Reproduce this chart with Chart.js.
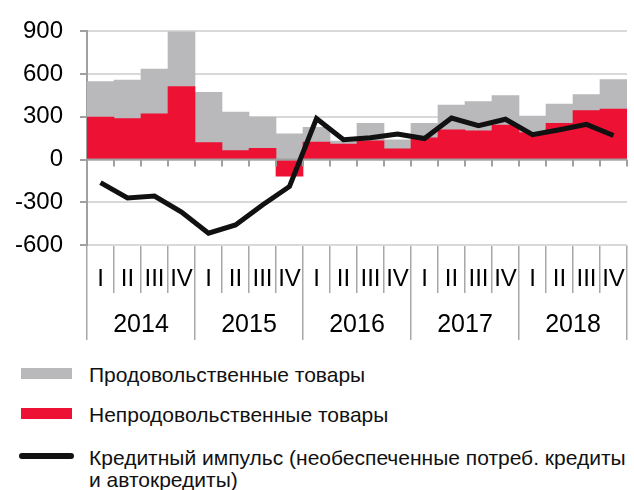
<!DOCTYPE html>
<html><head><meta charset="utf-8">
<script src="https://cdn.jsdelivr.net/npm/chart.js@4"></script>
<style>
body{margin:0;background:#fff;width:634px;height:490px;overflow:hidden;position:relative;font-family:"Liberation Sans",Arial,sans-serif;}
#wrap{position:absolute;left:0;top:0;width:634px;height:345px;}
.sw{position:absolute;}
.lt{position:absolute;left:89px;font-size:21px;line-height:21.5px;color:#111;white-space:nowrap;}
</style></head><body>
<div id="wrap"><canvas id="c" width="634" height="345"></canvas></div>
<div class="sw" style="left:21px;top:368px;width:51px;height:11px;background:#B9B9BC"></div>
<div class="lt" style="top:363.5px">Продовольственные товары</div>
<div class="sw" style="left:21px;top:408px;width:51px;height:11px;background:#ED1133"></div>
<div class="lt" style="top:403.5px">Непродовольственные товары</div>
<div class="sw" style="left:19px;top:453px;width:55px;height:6px;border-radius:3px;background:#111"></div>
<div class="lt" style="top:447px">Кредитный импульс (необеспеченные потреб. кредиты<br>и автокредиты)</div>
<script>
const quarters = ['I','II','III','IV','I','II','III','IV','I','II','III','IV','I','II','III','IV','I','II','III','IV'];
const years = ['2014','2015','2016','2017','2018'];
const yTicks = [-600,-300,0,300,600,900];
const nonFood = [299,288,322,513,119,63,79,-117,122,108,132,76,153,209,202,243,190,254,344,355];
const food    = [248,270,314,390,353,270,220,180,105,22,122,62,101,173,205,207,116,135,113,207];
const creditImpulse = [-162,-270,-256,-369,-517,-459,-319,-189,288,140,153,180,148,292,238,283,175,209,247,169];

const AXIS = '#a0a0a0';
const FONT = '"Liberation Sans", Arial, sans-serif';

const zeroLine = {
  id: 'zeroLine',
  beforeDatasetDraw(chart, args) {
    if (args.meta.type !== 'line') return;
    const {ctx, scales: {x, y}} = chart;
    const y0 = y.getPixelForValue(0);
    ctx.save();
    ctx.strokeStyle = AXIS;
    ctx.lineWidth = 2;
    ctx.beginPath();
    ctx.moveTo(x.left, y0); ctx.lineTo(x.right, y0);
    const half = (x.getPixelForValue(1) - x.getPixelForValue(0)) / 2;
    for (let i = 0; i <= quarters.length; i++) {
      const px = x.getPixelForValue(0) - half + i * 2 * half;
      ctx.moveTo(px, y0); ctx.lineTo(px, y0 + 7);
    }
    ctx.stroke();
    ctx.restore();
  }
};

new Chart(document.getElementById('c'), {
  data: {
    labels: quarters,
    datasets: [
      {type:'line', label:'Кредитный импульс', data: creditImpulse, borderColor:'#111', borderWidth:5, pointRadius:0, tension:0, stack:'line', order:0, xAxisID:'x'},
      {type:'bar', label:'Непродовольственные товары', data: nonFood, backgroundColor:'#ED1133', stack:'goods', order:1, categoryPercentage:1, barPercentage:1, xAxisID:'x'},
      {type:'bar', label:'Продовольственные товары', data: food, backgroundColor:'#B9B9BC', stack:'goods', order:1, categoryPercentage:1, barPercentage:1, xAxisID:'x'}
    ]
  },
  options: {
    responsive:false, animation:false,
    layout:{padding:{left:0,right:7,top:25,bottom:5}},
    plugins:{legend:{display:false}, tooltip:{enabled:false}},
    scales:{
      x:{
        type:'category', stacked:true, offset:true, position:'bottom',
        grid:{offset:true, drawOnChartArea:false, tickLength:48, color:'#a8a8a8', lineWidth:1.5},
        border:{display:false},
        ticks:{autoSkip:false, maxRotation:0, padding:-28, color:'#000', font:{family:FONT,size:24}},
        afterFit(s){ s.height = 48; }
      },
      years:{
        type:'category', labels: years, offset:true, position:'bottom',
        grid:{offset:true, drawOnChartArea:false, tickLength:47, color:'#a8a8a8', lineWidth:1.5},
        border:{display:false},
        ticks:{autoSkip:false, maxRotation:0, padding:-30, color:'#000', font:{family:FONT,size:25}},
        afterFit(s){ s.height = 47; }
      },
      y:{
        stacked:true, min:-600, max:900,
        afterBuildTicks(s){ s.ticks = yTicks.map(v => ({value:v})); },
        grid:{color:'#d9d9d9', lineWidth:2, tickLength:7, tickColor:AXIS},
        border:{display:true, color:AXIS, width:2},
        ticks:{padding:17, color:'#000', font:{family:FONT,size:24}},
        afterFit(s){ s.width = 87; }
      }
    }
  },
  plugins:[zeroLine]
});
</script>
</body></html>
